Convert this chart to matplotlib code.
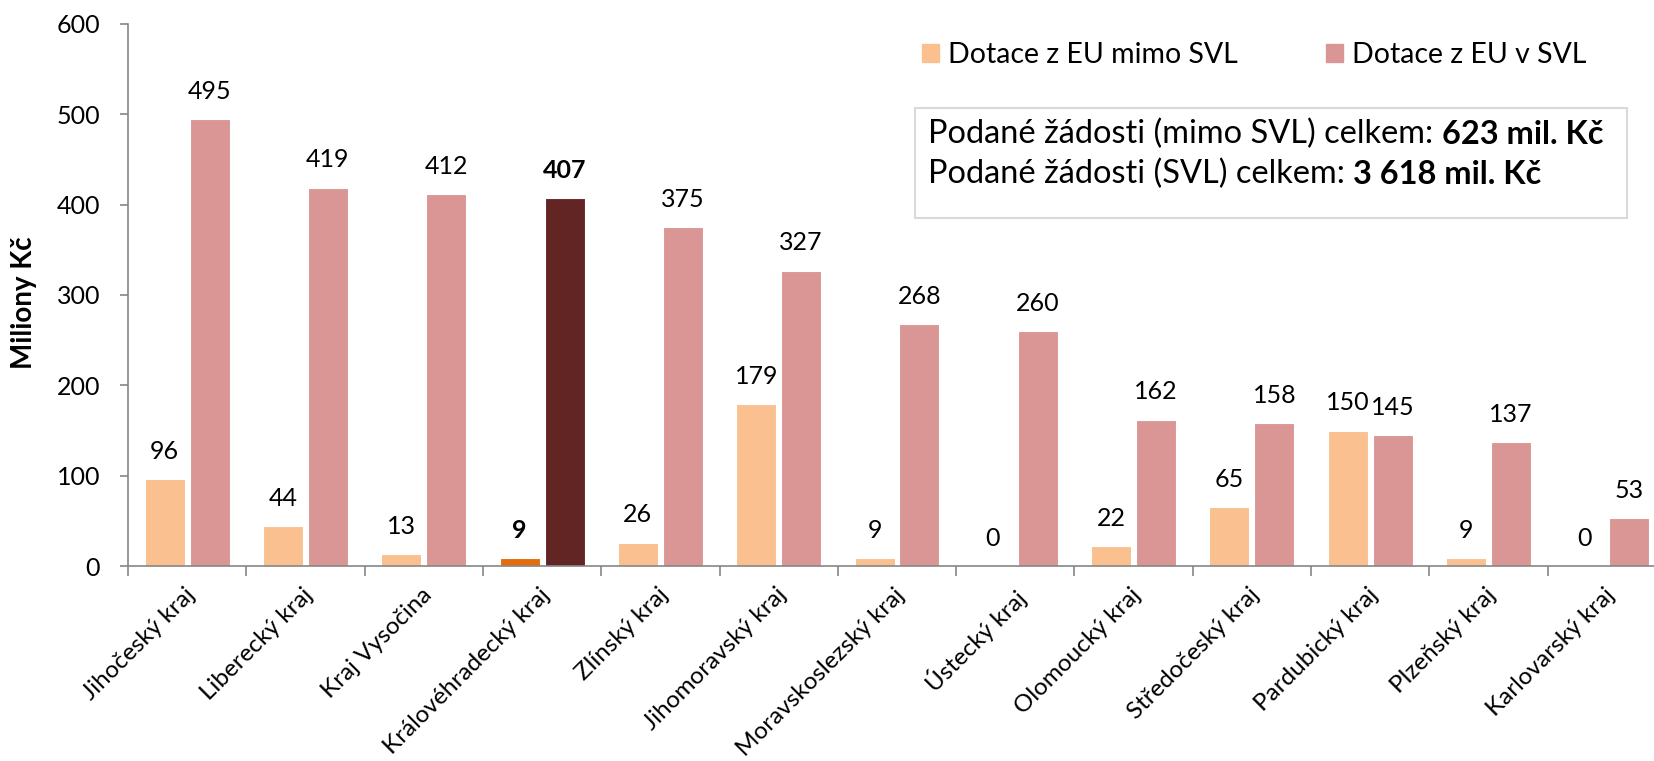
import matplotlib
matplotlib.use("Agg")
import numpy as np
import matplotlib.pyplot as plt
import matplotlib.transforms as mtransforms
from matplotlib.patches import Patch

plt.rcParams['font.family'] = ['Lato', 'DejaVu Sans']

kraje = ['Jihočeský kraj', 'Liberecký kraj', 'Kraj Vysočina', 'Královéhradecký kraj',
         'Zlínský kraj', 'Jihomoravský kraj', 'Moravskoslezský kraj', 'Ústecký kraj',
         'Olomoucký kraj', 'Středočeský kraj', 'Pardubický kraj', 'Plzeňský kraj',
         'Karlovarský kraj']
mimo_svl = [96, 44, 13, 9, 26, 179, 9, 0, 22, 65, 150, 9, 0]
v_svl = [495, 419, 412, 407, 375, 327, 268, 260, 162, 158, 145, 137, 53]
zvyrazneny = 'Královéhradecký kraj'

souhrn = [('Podané žádosti (mimo SVL) celkem: ', '623 mil. Kč'),
          ('Podané žádosti (SVL) celkem: ', '3 618 mil. Kč')]

c_mimo = '#FAC090'
c_v = '#D99694'
c_mimo_hl = '#E46C0A'
c_v_hl = '#632523'
c_axis = '#868686'

fig = plt.figure(figsize=(16.54, 7.61), dpi=100)
# plot area runs past the right edge of the figure, like the original
ax = fig.add_axes([128 / 1654, 1 - 566 / 761, (1666 - 128) / 1654, (566 - 24) / 761])

x = np.arange(len(kraje))
w = 0.338
off = 0.19
cols_m = [c_mimo_hl if k == zvyrazneny else c_mimo for k in kraje]
cols_v = [c_v_hl if k == zvyrazneny else c_v for k in kraje]
ax.bar(x - off, mimo_svl, w, color=cols_m, edgecolor='white', linewidth=0.8)
ax.bar(x + off, v_svl, w, color=cols_v, edgecolor='white', linewidth=0.8)

for i, k in enumerate(kraje):
    bold = 'bold' if k == zvyrazneny else 'normal'
    ax.annotate(str(mimo_svl[i]), (x[i] - off, mimo_svl[i]), xytext=(0, 20),
                textcoords='offset points', ha='center', va='center',
                fontsize=18, fontweight=bold)
    ax.annotate(str(v_svl[i]), (x[i] + off, v_svl[i]), xytext=(0, 20),
                textcoords='offset points', ha='center', va='center',
                fontsize=18, fontweight=bold)

ax.set_xlim(-0.5, len(kraje) - 0.5)
ax.set_ylim(0, 600)
ax.set_yticks(range(0, 601, 100))
ax.tick_params(axis='y', labelsize=18, length=6, color=c_axis, width=1.2, pad=14)

ax.set_xticks(x)
ax.set_xticklabels(kraje, rotation=45, ha='right', rotation_mode='anchor', fontsize=17.5)
ax.tick_params(axis='x', which='major', length=0, pad=13)
posun = mtransforms.ScaledTranslation(-3 / 100, 0, fig.dpi_scale_trans)
for lab in ax.get_xticklabels():
    lab.set_transform(lab.get_transform() + posun)
ax.set_xticks(np.arange(-0.5, len(kraje), 1), minor=True)
ax.tick_params(axis='x', which='minor', length=7, color=c_axis, width=1.2)

for s in ['top', 'right']:
    ax.spines[s].set_visible(False)
for s in ['left', 'bottom']:
    ax.spines[s].set_color(c_axis)
    ax.spines[s].set_linewidth(1.2)

fig.text(24 / 1654, 1 - 303 / 761, 'Miliony Kč', fontsize=20, fontweight='bold',
         rotation=90, ha='center', va='center')

handles = [Patch(color=c_mimo, label='Dotace z EU mimo SVL'),
           Patch(color=c_v, label='Dotace z EU v SVL')]
fig.legend(handles=handles, loc='center left', bbox_to_anchor=(896 / 1654, 1 - 55 / 761),
           ncol=2, frameon=False, fontsize=20.5, handlelength=0.6, handleheight=0.6,
           handletextpad=0.32, columnspacing=3.1)

box = plt.Rectangle((915 / 1654, 1 - 218 / 761), (1627 - 915) / 1654, (218 - 108) / 761,
                    transform=fig.transFigure, facecolor='white', edgecolor='#D9D9D9',
                    linewidth=1.5)
fig.add_artist(box)
fig.canvas.draw()
renderer = fig.canvas.get_renderer()
for (norm, tucne), ypx in zip(souhrn, [134, 174]):
    t = fig.text(928 / 1654, 1 - ypx / 761, norm, fontsize=23.4, va='center', ha='left')
    x1 = t.get_window_extent(renderer).x1
    fig.text(x1 / fig.bbox.width, 1 - ypx / 761, tucne, fontsize=23.4,
             fontweight='bold', va='center', ha='left')

fig.savefig('out.png', dpi=100)
